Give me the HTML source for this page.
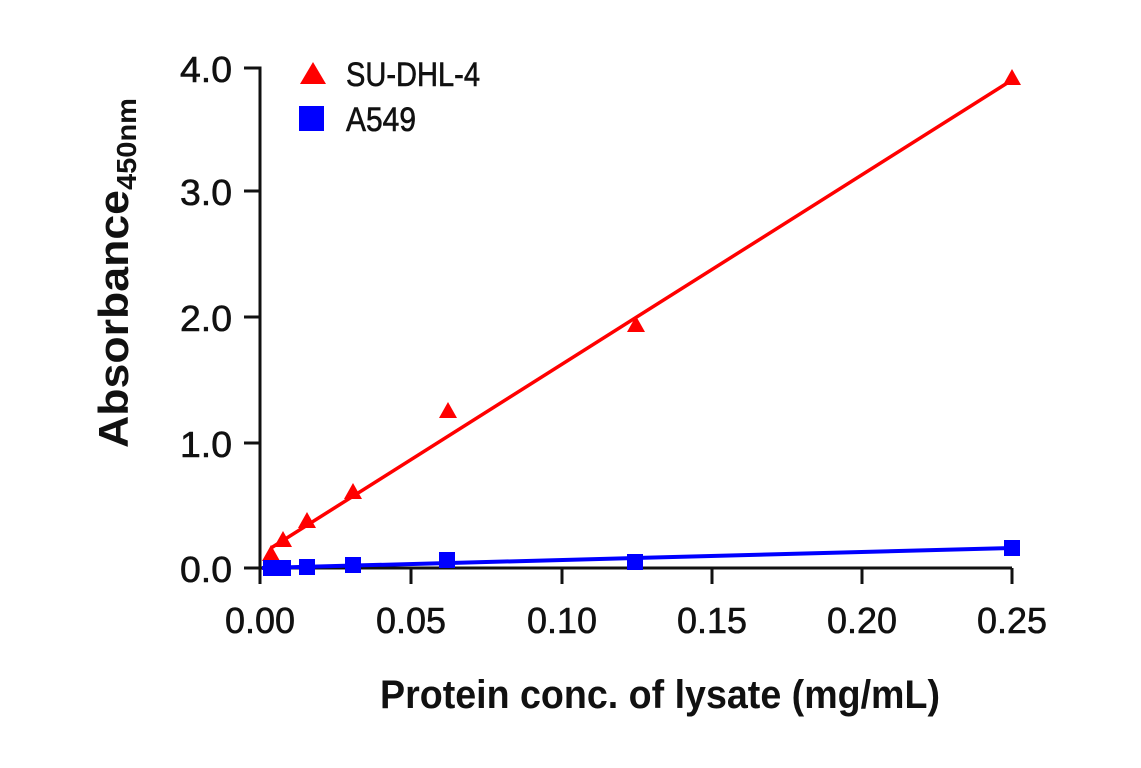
<!DOCTYPE html>
<html><head><style>body{margin:0;background:#fff}svg{display:block}</style></head><body>
<svg width="1141" height="768" xmlns="http://www.w3.org/2000/svg" font-family="'Liberation Sans',sans-serif">
<rect width="1141" height="768" fill="#fff"/>
<g stroke="#111" stroke-width="3" fill="none">
<path d="M244,68H260V568"/>
<path d="M244,191H260M244,317H260M244,443H260M244,568H1012"/>
<path d="M260,568V584M411,568V584M562,568V584M712,568V584M862,568V584M1012,568V584"/>
</g>
<g font-size="36" fill="#111" stroke="#111" stroke-width="0.6">
<text x="180" y="82" textLength="52" lengthAdjust="spacingAndGlyphs">4.0</text>
<text x="180" y="205" textLength="52" lengthAdjust="spacingAndGlyphs">3.0</text>
<text x="180" y="331" textLength="52" lengthAdjust="spacingAndGlyphs">2.0</text>
<text x="180" y="457" textLength="52" lengthAdjust="spacingAndGlyphs">1.0</text>
<text x="180" y="582" textLength="52" lengthAdjust="spacingAndGlyphs">0.0</text>
</g>
<g font-size="36" fill="#111" stroke="#111" stroke-width="0.6">
<text x="225" y="633" textLength="70" lengthAdjust="spacingAndGlyphs">0.00</text>
<text x="376" y="633" textLength="70" lengthAdjust="spacingAndGlyphs">0.05</text>
<text x="527" y="633" textLength="70" lengthAdjust="spacingAndGlyphs">0.10</text>
<text x="677" y="633" textLength="70" lengthAdjust="spacingAndGlyphs">0.15</text>
<text x="827" y="633" textLength="70" lengthAdjust="spacingAndGlyphs">0.20</text>
<text x="977" y="633" textLength="70" lengthAdjust="spacingAndGlyphs">0.25</text>
</g>
<text x="380" y="708" font-size="40" font-weight="bold" fill="#111" textLength="560" lengthAdjust="spacingAndGlyphs">Protein conc. of lysate (mg/mL)</text>
<text transform="translate(128,448) rotate(-90)" font-size="42" font-weight="bold" fill="#111"><tspan textLength="258" lengthAdjust="spacingAndGlyphs">Absorbance</tspan><tspan font-size="28" dy="8" textLength="92" lengthAdjust="spacingAndGlyphs">450nm</tspan></text>
<line x1="271" y1="548" x2="1012" y2="80" stroke="#f00" stroke-width="3.5"/>
<line x1="262" y1="568" x2="1012" y2="548" stroke="#00f" stroke-width="4"/>
<g fill="#f00">
<path d="M271,545l-9,16h18z"/><path d="M283,531l-9,16h18z"/><path d="M307,512l-9,16h18z"/><path d="M353,483l-9,16h18z"/><path d="M448,402l-9,16h18z"/><path d="M636,316l-9,16h18z"/><path d="M1012,69l-9,16h18z"/>
<path d="M313,62l-13,22h26z"/>
</g>
<g fill="#00f">
<rect x="263" y="560" width="16" height="16"/><rect x="275" y="560" width="16" height="16"/><rect x="299" y="559" width="16" height="16"/><rect x="345" y="557" width="16" height="16"/><rect x="439" y="552" width="16" height="16"/><rect x="627" y="554" width="16" height="16"/><rect x="1004" y="540" width="16" height="16"/>
<rect x="299" y="106" width="25" height="25"/>
</g>
<g font-size="34" fill="#111" stroke="#111" stroke-width="0.6">
<text x="346" y="86" textLength="134" lengthAdjust="spacingAndGlyphs">SU-DHL-4</text>
<text x="346" y="131" textLength="70" lengthAdjust="spacingAndGlyphs">A549</text>
</g>
</svg>
</body></html>
